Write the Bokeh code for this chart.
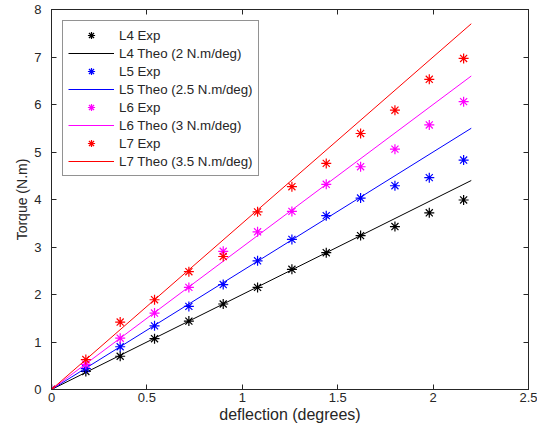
from bokeh.plotting import figure
from bokeh.models import Range1d, FixedTicker, LinearAxis, Legend, LegendItem
from bokeh.embed import file_html
from bokeh.resources import INLINE

# deflection (degrees)
deflection = [0, 0.18, 0.36, 0.54, 0.72, 0.90, 1.08, 1.26, 1.44, 1.62, 1.80, 1.98, 2.16]

# Experimental torque (N.m)
l4_exp = [0, 0.38, 0.70, 1.07, 1.44, 1.80, 2.15, 2.53, 2.88, 3.24, 3.43, 3.72, 3.99]
l5_exp = [0, 0.44, 0.90, 1.34, 1.75, 2.21, 2.71, 3.16, 3.66, 4.03, 4.29, 4.46, 4.83]
l6_exp = [0, 0.53, 1.08, 1.61, 2.15, 2.91, 3.32, 3.75, 4.32, 4.69, 5.06, 5.57, 6.06]
l7_exp = [0, 0.63, 1.42, 1.89, 2.48, 2.80, 3.74, 4.27, 4.76, 5.39, 5.88, 6.53, 6.97]

# Theoretical lines
theo_x = [0, 2.2]
l4_theo = [0, 4.4]
l5_theo = [0, 5.5]
l6_theo = [0, 6.6]
l7_theo = [0, 7.7]

x_ticks = [0, 0.5, 1, 1.5, 2, 2.5]
y_ticks = [0, 1, 2, 3, 4, 5, 6, 7, 8]

labels = ["L4 Exp", "L4 Theo (2 N.m/deg)", "L5 Exp", "L5 Theo (2.5 N.m/deg)",
          "L6 Exp", "L6 Theo (3 N.m/deg)", "L7 Exp", "L7 Theo (3.5 N.m/deg)"]
colors = ["#000000", "#0000FF", "#FF00FF", "#FF0000"]

FONT = "Liberation Sans"
TXT = "#262626"

p = figure(width=537, height=427, output_backend="svg", toolbar_location=None,
           x_range=Range1d(0, 2.5), y_range=Range1d(0, 8),
           min_border_left=51, min_border_right=9, min_border_top=9, min_border_bottom=38)
p.xgrid.visible = False
p.ygrid.visible = False
p.outline_line_color = TXT
p.outline_line_width = 1
p.outline_line_alpha = 1
p.background_fill_color = "white"
p.border_fill_color = "white"

for ax, ticks in ((p.xaxis[0], x_ticks), (p.yaxis[0], y_ticks)):
    ax.ticker = FixedTicker(ticks=ticks)
    ax.minor_tick_line_color = None
    ax.major_tick_in = 5
    ax.major_tick_out = 0
    ax.axis_line_color = TXT
    ax.major_tick_line_color = TXT
    ax.major_label_text_font = FONT
    ax.major_label_text_font_size = "13px"
    ax.major_label_text_color = TXT
    ax.axis_label_text_font = FONT
    ax.axis_label_text_font_style = "normal"
    ax.axis_label_text_color = TXT

p.xaxis.axis_label = "deflection (degrees)"
p.yaxis.axis_label = "Torque (N.m)"
p.xaxis.axis_label_text_font_size = "16px"
p.yaxis.axis_label_text_font_size = "14px"
p.xaxis.major_label_standoff = 3
p.xaxis.axis_label_standoff = 1
p.yaxis.major_label_standoff = 10
p.yaxis.axis_label_standoff = 1

for loc, ticks in (("above", x_ticks), ("right", y_ticks)):
    a = LinearAxis(ticker=FixedTicker(ticks=ticks))
    a.minor_tick_line_color = None
    a.major_tick_in = 5
    a.major_tick_out = 0
    a.major_tick_line_color = TXT
    a.axis_line_color = TXT
    a.major_label_overrides = {t: "" for t in ticks}
    a.major_label_standoff = 0
    a.axis_label = None
    p.add_layout(a, loc)

exps = [l4_exp, l5_exp, l6_exp, l7_exp]
theos = [l4_theo, l5_theo, l6_theo, l7_theo]
items = []
for i in range(4):
    r_exp = p.scatter(deflection, exps[i], marker="asterisk", size=10,
                      line_color=colors[i], line_width=1.2)
    r_th = p.line(theo_x, theos[i], color=colors[i], line_width=1, line_alpha=1.0)
    items.append(LegendItem(label=labels[2 * i], renderers=[r_exp]))
    items.append(LegendItem(label=labels[2 * i + 1], renderers=[r_th]))

legend = Legend(items=items, location="top_left", margin=11, padding=5, spacing=0,
                glyph_width=46, glyph_height=18, label_height=18, label_standoff=5,
                label_text_font=FONT, label_text_font_size="13.3px", label_text_color=TXT,
                border_line_color=TXT, border_line_width=1, background_fill_color="white",
                background_fill_alpha=1)
p.add_layout(legend, "center")

open("out.html", "w").write(file_html(p, INLINE))
